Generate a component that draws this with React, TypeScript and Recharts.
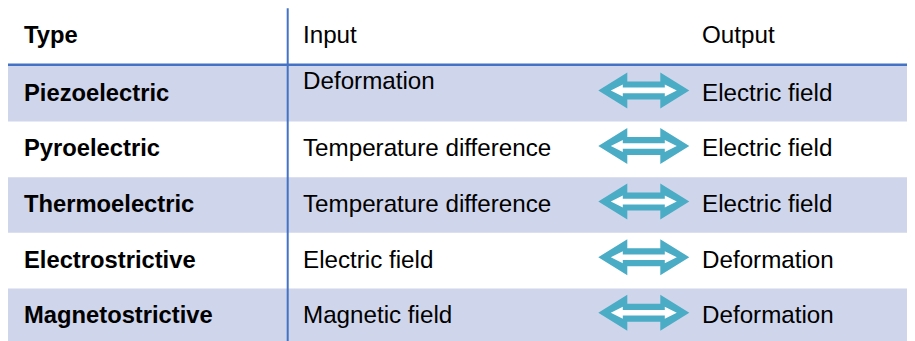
import React from "react";
import { ComposedChart, Bar, XAxis, YAxis, LabelList, ReferenceLine, Cell } from "recharts";

// ---- data ----
const headers = ["Type", "Input", "Output"];
const types = ["Piezoelectric", "Pyroelectric", "Thermoelectric", "Electrostrictive", "Magnetostrictive"];
const inputs = ["Deformation", "Temperature difference", "Temperature difference", "Electric field", "Magnetic field"];
const outputs = ["Electric field", "Electric field", "Electric field", "Deformation", "Deformation"];

const rows = types.map((t, i) => ({ type: t, input: inputs[i], output: outputs[i], span: 1 }));

// ---- layout / style ----
const W = 907;
const H = 336;
const frac = (px: number) => px / W;
const TYPE_X = frac(16);
const DIVIDER_X = frac(279.7);
const INPUT_X = frac(295);
const ARROW_X = frac(635.8);
const OUTPUT_X = frac(694);
const headerX = [TYPE_X, INPUT_X, OUTPUT_X];

const BAND = "#CFD5EA";
const LINE = "#4472C4";
const TEAL = "#4BACC6";
const FONT = "'Liberation Sans', Arial, sans-serif";
const FS = 24.2;
const FS_BOLD = 23.75;
const BASE_DY = 6.8;

const vbOf = (p: any) => (p && p.viewBox && p.viewBox.width !== undefined ? p.viewBox : p);

const TypeCell = (p: any) => {
  const vb = vbOf(p);
  return (
    <text x={vb.x + TYPE_X * vb.width} y={vb.y + vb.height / 2 + BASE_DY} fontFamily={FONT} fontSize={FS_BOLD} fontWeight="bold" fill="#000">
      {p.value}
    </text>
  );
};

const InputCell = (p: any) => {
  const vb = vbOf(p);
  // first row's input sits at the top of its cell in the original
  const y = p.index === 0 ? vb.y + 23.3 : vb.y + vb.height / 2 + BASE_DY;
  return (
    <text x={vb.x + INPUT_X * vb.width} y={y} fontFamily={FONT} fontSize={FS} fill="#000">
      {p.value}
    </text>
  );
};

const OutputCell = (p: any) => {
  const vb = vbOf(p);
  return (
    <text x={vb.x + OUTPUT_X * vb.width} y={vb.y + vb.height / 2 + BASE_DY} fontFamily={FONT} fontSize={FS} fill="#000">
      {p.value}
    </text>
  );
};

const arrowPts = (cx: number, cy: number, L: number, HL: number, Hh: number, S: number) =>
  [
    [-L, 0],
    [-L + HL, -Hh],
    [-L + HL, -S],
    [L - HL, -S],
    [L - HL, -Hh],
    [L, 0],
    [L - HL, Hh],
    [L - HL, S],
    [-L + HL, S],
    [-L + HL, Hh],
  ]
    .map(([dx, dy]) => `${cx + dx},${cy + dy}`)
    .join(" ");

const ArrowCell = (p: any) => {
  const vb = vbOf(p);
  const cx = vb.x + ARROW_X * vb.width;
  const cy = vb.y + vb.height / 2 - 3.6;
  return (
    <g>
      <polygon points={arrowPts(cx, cy, 45.5, 29, 18, 9)} fill={TEAL} />
      <polygon points={arrowPts(cx, cy, 33, 12, 6, 2.8)} fill="#FFFFFF" />
    </g>
  );
};

const HeaderTick = (p: any) => {
  const i = p.index;
  return (
    <text x={p.x} y={35.3} fontFamily={FONT} fontSize={i === 0 ? FS_BOLD : FS} fontWeight={i === 0 ? "bold" : "normal"} fill="#000">
      {headers[i]}
    </text>
  );
};

const DividerShape = (p: any) => {
  const bottom = Math.max(p.y1, p.y2);
  return <line x1={p.x1} x2={p.x2} y1={0.3} y2={bottom} stroke={LINE} strokeWidth={2} />;
};

export default function App() {
  return (
    <ComposedChart
      width={W}
      height={H}
      data={rows}
      layout="vertical"
      margin={{ top: 28, right: 0, bottom: 0, left: 0 }}
      barCategoryGap={0}
      barGap={0}
    >
      <YAxis type="category" dataKey="type" hide />
      <Bar dataKey="span" isAnimationActive={false}>
        {rows.map((_, i) => (
          <Cell key={i} fill={i % 2 === 0 ? BAND : "#FFFFFF"} />
        ))}
        <LabelList dataKey="type" content={TypeCell} />
        <LabelList dataKey="input" content={InputCell} />
        <LabelList dataKey="output" content={ArrowCell} />
        <LabelList dataKey="output" content={OutputCell} />
      </Bar>
      <ReferenceLine x={DIVIDER_X} shape={DividerShape} />
      <XAxis
        type="number"
        orientation="top"
        domain={[0, 1]}
        ticks={headerX}
        interval={0}
        tick={HeaderTick}
        tickLine={false}
        height={30}
        axisLine={{ stroke: LINE, strokeWidth: 2.5, transform: "translate(0,-1.3)" }}
      />
    </ComposedChart>
  );
}
